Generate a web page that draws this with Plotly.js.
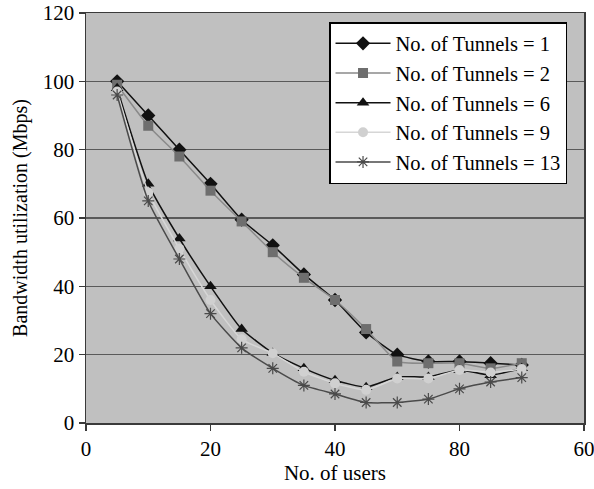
<!DOCTYPE html>
<html>
<head>
<meta charset="utf-8">
<script src="https://cdn.plot.ly/plotly-3.0.1.min.js"></script>
<style>html,body{margin:0;padding:0;background:#fff;}#chart{width:594px;height:489px;}</style>
</head>
<body>
<div id="chart"></div>
<script>
// Data
var users = [5, 10, 15, 20, 25, 30, 35, 40, 45, 50, 55, 60, 65, 70];
var tunnels1  = [100, 90, 80, 70, 59.5, 52, 43.5, 36, 26.5, 20, 18, 18, 17.5, 17];
var tunnels2  = [99, 87, 78, 68, 59, 50, 42.5, 36, 27.5, 18, 17.5, 17.5, 16, 17.5];
var tunnels6  = [98, 70, 54, 40, 27.5, 20.5, 16, 12.5, 10.5, 13.5, 13.5, 15.5, 14, 16];
var tunnels9  = [97, 67.5, 51, 36, 24.5, 20.4, 15, 11.6, 9.7, 13, 13, 15.5, 14.8, 15.8];
var tunnels13 = [96, 65, 48, 32, 22, 16, 11, 8.5, 6, 6, 7, 10, 12, 13.3];
var seriesNames = ["No. of Tunnels = 1", "No. of Tunnels = 2", "No. of Tunnels = 6", "No. of Tunnels = 9", "No. of Tunnels = 13"];
var xTickVals = [0, 20, 40, 60, 80];
var xTickText = ["0", "20", "40", "80", "60"];
var yTickVals = [0, 20, 40, 60, 80, 100, 120];

var serif = "Liberation Serif, Times New Roman, serif";

function tr(y, name, lineColor, lineW, sym, mColor, mSize, grp) {
  return {
    x: users, y: y, name: name, type: "scatter", mode: "lines+markers",
    legendgroup: grp,
    line: {color: lineColor, width: lineW, shape: "spline", smoothing: 0.5},
    marker: {symbol: sym, color: mColor, size: mSize, line: {color: mColor, width: sym.indexOf("open") >= 0 ? 1.2 : 0}}
  };
}

var data = [
  tr(tunnels1, seriesNames[0], "#111111", 1.5, "diamond", "#111111", 11, "g1"),
  tr(tunnels2, seriesNames[1], "#8a8a8a", 1.5, "square", "#6e6e6e", 10, "g2"),
  tr(tunnels6, seriesNames[2], "#111111", 1.5, "triangle-up", "#111111", 11, "g3"),
  tr(tunnels9, seriesNames[3], "#d6d6d6", 1.5, "circle", "#d0d0d0", 10, "g4"),
  tr(tunnels13, seriesNames[4], "#4a4a4a", 1.5, "asterisk-open", "#4a4a4a", 10, "g5")
];

var layout = {
  width: 594, height: 489,
  margin: {l: 86, r: 10, t: 13, b: 66},
  paper_bgcolor: "#ffffff",
  plot_bgcolor: "#c0c0c0",
  font: {family: serif, color: "#000", size: 21},
  showlegend: true,
  legend: {
    x: 0.488, y: 0.978, xanchor: "left", yanchor: "top",
    bgcolor: "#ffffff", bordercolor: "#000000", borderwidth: 1.5,
    font: {family: serif, size: 20.5, color: "#000"},
    tracegroupgap: 3,
    itemwidth: 55,
    traceorder: "normal"
  },
  xaxis: {
    range: [0, 80], tickvals: xTickVals, ticktext: xTickText,
    showgrid: false, zeroline: false,
    showline: true, linecolor: "#3a3a3a", linewidth: 1.5, mirror: true,
    ticks: "outside", ticklen: 6, tickcolor: "#3a3a3a", tickwidth: 1.5,
    ticklabeloverflow: "allow",
    tickfont: {family: serif, size: 21, color: "#000"},
    title: {text: "No. of users", font: {family: serif, size: 21, color: "#000"}, standoff: 1}
  },
  yaxis: {
    range: [0, 120], tickvals: yTickVals,
    showgrid: true, gridcolor: "#5a5a5a", gridwidth: 1.3, zeroline: false,
    showline: true, linecolor: "#3a3a3a", linewidth: 1.5, mirror: true,
    ticks: "outside", ticklen: 6, tickcolor: "#3a3a3a", tickwidth: 1.5,
    tickfont: {family: serif, size: 21, color: "#000"},
    title: {text: "Bandwidth utilization (Mbps)", font: {family: serif, size: 20, color: "#000"}, standoff: 10}
  }
};

Plotly.newPlot("chart", data, layout, {displayModeBar: false, staticPlot: true});
</script>
</body>
</html>
